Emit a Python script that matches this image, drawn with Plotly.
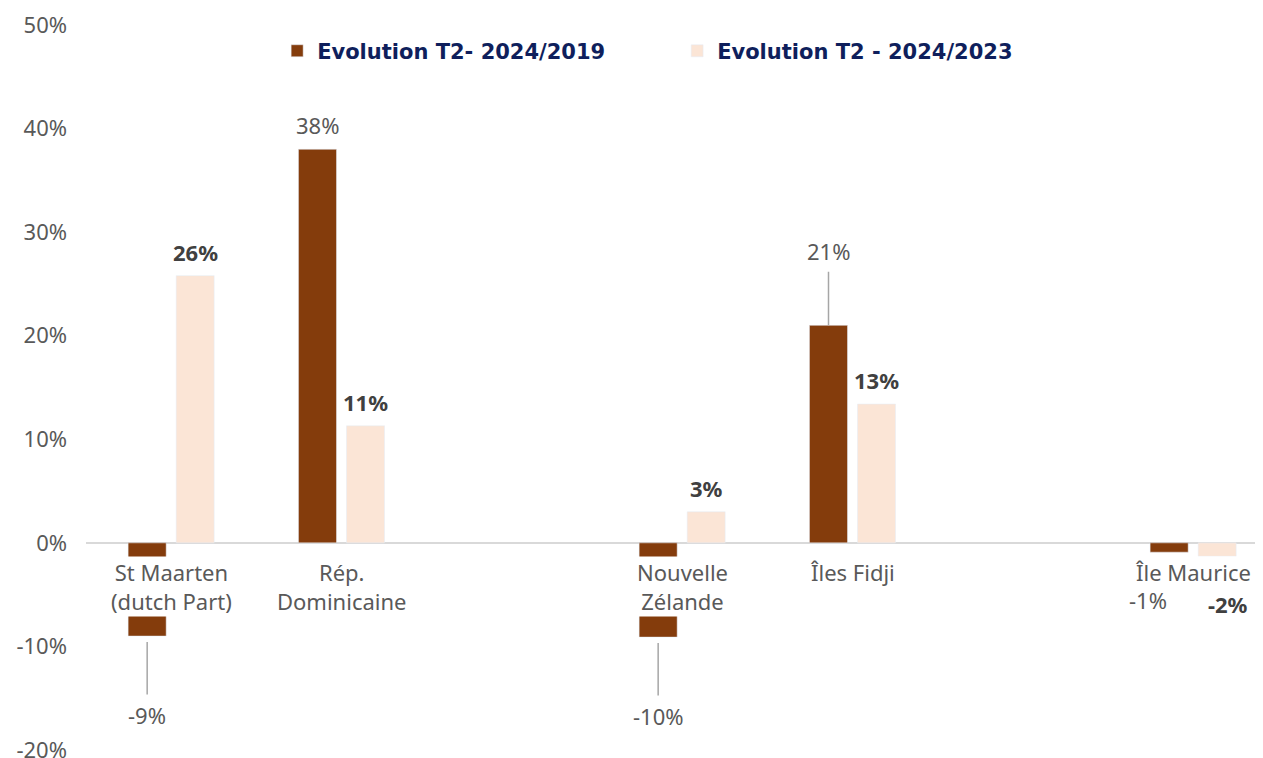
import plotly.graph_objects as go

# données
categories = ["St Maarten<br>(dutch Part)", "Rép.<br>Dominicaine", "Nouvelle<br>Zélande", "Îles Fidji", "Île Maurice"]
axis_order = [categories[0], categories[1], " ", categories[2], categories[3], "  ", categories[4]]

evol_2019 = [-0.090, 0.380, -0.091, 0.210, -0.009]
evol_2023 = [0.258, 0.113, 0.030, 0.134, -0.013]
labels_2019 = ["-9%", "38%", "-10%", "21%", "-1%"]
labels_2023 = ["26%", "11%", "3%", "13%", "-2%"]

y_ticks = [-0.2, -0.1, 0, 0.1, 0.2, 0.3, 0.4, 0.5]
y_ticktext = ["-20%", "-10%", "0%", "10%", "20%", "30%", "40%", "50%"]

DARK = "#843c0c"
LIGHT = "#fbe5d6"
GREY = "#595959"
FONT = "Noto Sans"

fig = go.Figure()
fig.add_trace(go.Bar(x=categories, y=evol_2019, name="Evolution T2- 2024/2019",
                     marker=dict(color=DARK), hoverinfo="skip"))
fig.add_trace(go.Bar(x=categories, y=evol_2023, name="Evolution T2 - 2024/2023",
                     marker=dict(color=LIGHT), hoverinfo="skip"))

# décalage des étiquettes (pixels) : (dx, dy, leader line?)
label_pos_2019 = {0: (0, -79, True), 2: (0, -79, True), 3: (0, 74, True), 4: (-21, -48, True)}
label_pos_2023 = {4: (11, -48, False)}

annotations = []
for series, labels, pos, shift, bold in [(evol_2019, labels_2019, label_pos_2019, -24, False),
                                         (evol_2023, labels_2023, label_pos_2023, 24, True)]:
    for i, (v, t) in enumerate(zip(series, labels)):
        font = dict(family=FONT, size=22, color="#404040" if bold else GREY,
                    weight="bold" if bold else "normal")
        if i in pos:
            dx, dy, leader = pos[i]
            if leader:
                annotations.append(dict(x=categories[i], y=v, xshift=shift, text=t, font=font,
                                        showarrow=True, arrowhead=0, arrowwidth=1.5,
                                        arrowcolor="#a6a6a6", ax=dx, ay=-dy,
                                        standoff=6 if v < 0 else 0, startstandoff=4))
            else:
                annotations.append(dict(x=categories[i], y=v, xshift=shift + dx, yshift=dy,
                                        text=t, font=font, showarrow=False))
        else:
            annotations.append(dict(x=categories[i], y=v, xshift=shift, yshift=24 if v >= 0 else -24,
                                    text=t, font=font, showarrow=False))

# libellés des catégories, fond blanc par-dessus les barres
for c in categories:
    annotations.append(dict(x=c, y=0, yanchor="top", yshift=-13, text=c, showarrow=False,
                            bgcolor="white", borderpad=0,
                            font=dict(family=FONT, size=22, color=GREY)))

# la page a une marge de 8px : figure 1255x750
fig.update_layout(
    width=1255, height=750,
    margin=dict(l=78, r=0, t=17, b=8),
    plot_bgcolor="white", paper_bgcolor="white",
    barmode="group", bargap=0.436, bargroupgap=0.208,
    showlegend=True,
    legend=dict(orientation="h", x=0.1624, xanchor="left", y=0.964, yanchor="middle",
                entrywidth=355, entrywidthmode="pixels",
                font=dict(family="DejaVu Sans", size=21, color="#0f1f5c", weight="bold")),
    xaxis=dict(categoryorder="array", categoryarray=axis_order, range=[-0.5, 6.41],
               showticklabels=False, showgrid=False, zeroline=False, showline=False,
               automargin=False),
    yaxis=dict(range=[-0.2, 0.5], tickvals=y_ticks, ticktext=y_ticktext, showgrid=False,
               zeroline=True, zerolinecolor="#d9d9d9", zerolinewidth=1.5,
               ticklabeloverflow="allow", automargin=False,
               ticklabelstandoff=18, tickfont=dict(family=FONT, size=22, color=GREY)),
    annotations=annotations,
)

fig.write_html("out.html")
